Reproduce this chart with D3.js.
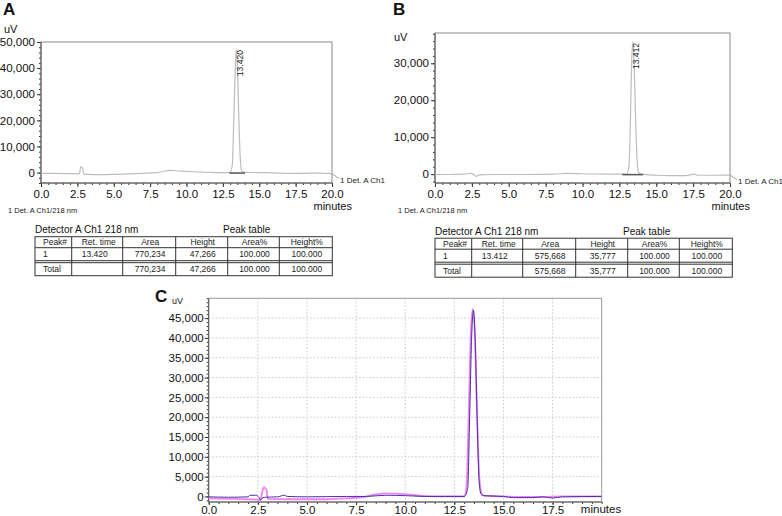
<!DOCTYPE html>
<html>
<head>
<meta charset="utf-8">
<script src="https://cdn.jsdelivr.net/npm/d3@7"></script>
<style>
body { margin: 0; background: #fff; }
svg { display: block; font-family: "Liberation Sans", Arial, sans-serif; }
</style>
</head>
<body>
<svg id="fig" width="782" height="516"></svg>
<script>
// time axis ticks (minutes)
var timeTicks = [0, 2.5, 5, 7.5, 10, 12.5, 15, 17.5, 20];

// chromatogram A: [minutes, uV]
var traceA = [[0,-300],[1,-300],[2,-400],[2.55,-500],[2.65,-300],[2.72,2200],[2.85,1800],[2.95,-600],[3.2,-700],
  [4,-800],[5,-700],[6,-500],[7,-300],[8,0],[8.5,600],[8.9,800],[9.5,600],[10.5,300],[11.5,100],[12.5,0],
  [13.0,100],[13.15,3000],[13.25,20000],[13.35,40000],[13.42,47266],[13.5,40000],[13.6,20000],[13.7,5000],
  [13.8,600],[14.0,100],[15,0],[16,-100],[17,-300],[18,-300],[19,-200],[20,-400]];

// chromatogram B
var traceB = [[0,-100],[1,-100],[2,0],[2.4,200],[2.6,0],[2.8,-600],[3.0,-200],[4,-100],[6,-100],[8,0],[9,200],
  [10,100],[12,0],[13.0,0],[13.15,2000],[13.25,15000],[13.33,30000],[13.412,35777],[13.5,30000],[13.6,15000],
  [13.7,4000],[13.8,500],[14,0],[15,-300],[16,-400],[17,-400],[17.6,0],[17.8,-300],[19,-300],[20,-200]];

// overlay C
var traceCPink = [[0,-500],[1,-600],[2,-700],[2.5,-800],[2.6,-1100],[2.7,500],[2.8,2300],[2.95,1500],[3.0,-600],
  [4,-700],[5,-700],[6,-700],[7,-500],[7.8,-200],[8.5,500],[9,800],[10,600],[10.5,300],[11,100],[12,0],[13,0],
  [13.12,2500],[13.23,20000],[13.33,40000],[13.44,47300],[13.55,40000],[13.66,20000],[13.77,5000],[13.88,800],
  [14,200],[15,0],[16,-100],[17,-100],[18,0],[20,0]];
var traceCDark = [[0,-100],[1,-200],[2,-100],[2.1,300],[2.4,300],[2.55,-200],[2.65,-900],[2.75,-300],[2.9,-200],
  [3.5,-100],[3.85,300],[4.0,0],[5,-100],[7,0],[8,0],[9,300],[10,200],[10.5,100],[11,0],[12,0],[13,0],
  [13.18,2000],[13.28,20000],[13.38,40000],[13.47,47000],[13.56,40000],[13.66,20000],[13.76,4000],[13.86,600],
  [14,200],[15,0],[15.5,-300],[16.5,-300],[17,-100],[17.5,-400],[18,-100],[20,0]];

// peaks: [ret. time, height, baseline start, baseline end]
var peakA = [13.420, 47266, 12.95, 14.02];
var peakB = [13.412, 35777, 12.7, 14.1];

// peak tables
var tableHeader = ["Peak#", "Ret. time", "Area", "Height", "Area%", "Height%"];
var tableRowsA = [["1", "13.420", "770,234", "47,266", "100.000", "100.000"],
                  ["Total", "", "770,234", "47,266", "100.000", "100.000"]];
var tableRowsB = [["1", "13.412", "575,668", "35,777", "100.000", "100.000"],
                  ["Total", "", "575,668", "35,777", "100.000", "100.000"]];

var svg = d3.select('#fig');

function styleAxis(sel, size) {
  sel.select('.domain').remove();
  sel.selectAll('.tick line').attr('stroke', '#333');
  sel.selectAll('.tick text').attr('fill', '#111').style('font-size', size + 'px')
    .style('font-family', '"Liberation Sans", Arial, sans-serif');
}

var line = function (x, y) {
  return d3.line().x(function (d) { return x(d[0]); }).y(function (d) { return y(d[1]); })
    .curve(d3.curveMonotoneX);
};

function drawSingle(cfg) {
  var x = d3.scaleLinear().domain([0, 20]).range(cfg.xr);
  var y = d3.scaleLinear().domain(cfg.yd).range(cfg.yr);
  var g = svg.append('g');

  // minor ticks
  g.append('g').attr('transform', 'translate(' + cfg.xr[0] + ',0)')
    .call(d3.axisLeft(y).tickValues(d3.range(Math.ceil(cfg.yd[0] / 2000) * 2000, cfg.yd[1] + 1, 2000)).tickSize(2).tickFormat(''))
    .call(styleAxis, 11);
  g.append('g').attr('transform', 'translate(0,' + cfg.yr[0] + ')')
    .call(d3.axisBottom(x).tickValues(d3.range(0, 20.01, 0.5)).tickSize(2).tickFormat(''))
    .call(styleAxis, 11);
  // major ticks
  g.append('g').attr('transform', 'translate(' + cfg.xr[0] + ',0)')
    .call(d3.axisLeft(y).tickValues(cfg.yTicks).tickSize(4).tickPadding(2).tickFormat(d3.format(',')))
    .call(styleAxis, 11.5);
  g.append('g').attr('transform', 'translate(0,' + cfg.yr[0] + ')')
    .call(d3.axisBottom(x).tickValues(timeTicks).tickSize(4).tickPadding(3).tickFormat(d3.format('.1f')))
    .call(styleAxis, 11.5);

  g.append('rect').attr('x', cfg.xr[0]).attr('y', cfg.yr[1])
    .attr('width', cfg.xr[1] - cfg.xr[0]).attr('height', cfg.yr[0] - cfg.yr[1])
    .attr('fill', 'none').attr('stroke', '#8a8a8a').attr('stroke-width', 1);
  g.append('line').attr('x1', cfg.xr[0]).attr('x2', cfg.xr[0]).attr('y1', cfg.yr[1]).attr('y2', cfg.yr[0])
    .attr('stroke', '#555');
  g.append('line').attr('x1', cfg.xr[0]).attr('x2', cfg.xr[1]).attr('y1', cfg.yr[0]).attr('y2', cfg.yr[0])
    .attr('stroke', '#555');

  g.append('path').datum(cfg.trace).attr('d', line(x, y))
    .attr('fill', 'none').attr('stroke', '#bdbdbd').attr('stroke-width', 1.2);

  // integration baseline + peak label
  var p = cfg.peak;
  g.append('line').attr('x1', x(p[2])).attr('x2', x(p[3])).attr('y1', y(0) + 0.5).attr('y2', y(0) + 0.5)
    .attr('stroke', '#555').attr('stroke-width', 1.5);
  g.append('text').attr('transform', 'translate(' + (x(p[0]) + 6.5) + ',' + (y(p[1]) + 1) + ') rotate(-90)')
    .attr('text-anchor', 'end').style('font-size', '8.5px').attr('fill', '#222').text(p[0].toFixed(3));

  // channel label at right end
  var last = cfg.trace[cfg.trace.length - 1];
  g.append('line').attr('x1', cfg.xr[1]).attr('y1', y(last[1])).attr('x2', cfg.xr[1] + 7).attr('y2', y(last[1]) + 5)
    .attr('stroke', '#888').attr('stroke-width', 0.8);
  g.append('text').attr('x', cfg.xr[1] + 8).attr('y', y(last[1]) + 9).style('font-size', '8px').attr('fill', '#222')
    .text('1 Det. A Ch1');

  g.append('text').attr('x', cfg.xr[1] + 20).attr('y', cfg.yr[0] + 26.5).attr('text-anchor', 'end')
    .style('font-size', '11px').attr('fill', '#111').text('minutes');
  g.append('text').attr('x', cfg.left + 8).attr('y', cfg.yr[0] + 30).style('font-size', '7.5px').attr('fill', '#222')
    .text('1 Det. A Ch1/218 nm');
  g.append('text').attr('x', cfg.left + 4).attr('y', cfg.uvY).style('font-size', '11px').attr('fill', '#111').text('uV');
  g.append('text').attr('x', cfg.left + 3).attr('y', 15).style('font-size', '17px').style('font-weight', 'bold')
    .attr('fill', '#111').text(cfg.letter);
}

function drawTable(rows, dx, dy) {
  var cols = [35, 71.7, 122.7, 175.7, 227.7, 279.3, 332.3].map(function (v) { return v + dx; });
  var rowsY = [236.7, 247.7, 260.7, 262.7, 275.7].map(function (v) { return v + dy; });
  var g = svg.append('g');
  g.append('text').attr('x', cols[0]).attr('y', rowsY[0] - 3.3).style('font-size', '10px').attr('fill', '#111')
    .text('Detector A Ch1 218 nm');
  g.append('text').attr('x', cols[0] + 188).attr('y', rowsY[0] - 3.3).style('font-size', '10px').attr('fill', '#111')
    .text('Peak table');
  g.append('rect').attr('x', cols[0]).attr('y', rowsY[0]).attr('width', cols[6] - cols[0])
    .attr('height', rowsY[4] - rowsY[0]).attr('fill', 'none').attr('stroke', '#333');
  [1, 2, 3].forEach(function (i) {
    g.append('line').attr('x1', cols[0]).attr('x2', cols[6]).attr('y1', rowsY[i]).attr('y2', rowsY[i])
      .attr('stroke', '#333');
  });
  cols.slice(1, 6).forEach(function (c) {
    g.append('line').attr('x1', c).attr('x2', c).attr('y1', rowsY[0]).attr('y2', rowsY[4]).attr('stroke', '#333');
  });
  var lines = [tableHeader].concat(rows);
  var mids = [(rowsY[0] + rowsY[1]) / 2, (rowsY[1] + rowsY[2]) / 2, (rowsY[3] + rowsY[4]) / 2];
  lines.forEach(function (r, ri) {
    r.forEach(function (t, ci) {
      var left = ci < 2;
      g.append('text')
        .attr('x', left ? cols[ci] + (ci === 0 ? 8 : 10) : (cols[ci] + cols[ci + 1]) / 2 + 1)
        .attr('y', mids[ri] + 3)
        .attr('text-anchor', left ? 'start' : 'middle')
        .style('font-size', '8.5px').attr('fill', '#222').text(t);
    });
  });
}

function drawOverlay() {
  var x = d3.scaleLinear().domain([0, 20]).range([208.7, 601.7]);
  var y = d3.scaleLinear().domain([-1400, 50000]).range([502, 298.3]);
  var g = svg.append('g');
  var gridY = d3.range(5000, 50000, 5000);

  g.selectAll('.gx').data(timeTicks.slice(1, 8)).enter().append('line')
    .attr('x1', function (d) { return x(d); }).attr('x2', function (d) { return x(d); })
    .attr('y1', 298.3).attr('y2', 502).attr('stroke', '#c8c8c8').attr('stroke-dasharray', '1.5,2');
  g.selectAll('.gy').data(gridY).enter().append('line')
    .attr('x1', 208.7).attr('x2', 601.7)
    .attr('y1', function (d) { return y(d); }).attr('y2', function (d) { return y(d); })
    .attr('stroke', '#c8c8c8').attr('stroke-dasharray', '1.5,2');

  g.append('g').attr('transform', 'translate(208.7,0)')
    .call(d3.axisLeft(y).tickValues(d3.range(-1000, 50001, 1000)).tickSize(2).tickFormat(''))
    .call(styleAxis, 11);
  g.append('g').attr('transform', 'translate(0,502)')
    .call(d3.axisBottom(x).tickValues(d3.range(0, 20.01, 0.5)).tickSize(2).tickFormat(''))
    .call(styleAxis, 11);
  g.append('g').attr('transform', 'translate(208.7,0)')
    .call(d3.axisLeft(y).tickValues([0].concat(gridY)).tickSize(4).tickPadding(1).tickFormat(d3.format(',')))
    .call(styleAxis, 11.5);
  g.append('g').attr('transform', 'translate(0,502)')
    .call(d3.axisBottom(x).tickValues(timeTicks.slice(0, 8)).tickSize(3).tickPadding(1).tickFormat(d3.format('.1f')))
    .call(styleAxis, 11.5);

  g.append('rect').attr('x', 208.7).attr('y', 298.3).attr('width', 393).attr('height', 203.7)
    .attr('fill', 'none').attr('stroke', '#999');
  g.append('line').attr('x1', 208.7).attr('x2', 208.7).attr('y1', 298.3).attr('y2', 502).attr('stroke', '#555');
  g.append('line').attr('x1', 208.7).attr('x2', 601.7).attr('y1', 502).attr('y2', 502).attr('stroke', '#555');

  g.append('path').datum(traceCPink).attr('d', line(x, y))
    .attr('fill', 'none').attr('stroke', '#ee82ee').attr('stroke-width', 1.8);
  g.append('path').datum(traceCDark).attr('d', line(x, y))
    .attr('fill', 'none').attr('stroke', '#4b2fa6').attr('stroke-width', 1);

  g.append('text').attr('x', 601).attr('y', 513).attr('text-anchor', 'middle')
    .style('font-size', '11.5px').attr('fill', '#111').text('minutes');
  g.append('text').attr('x', 172).attr('y', 304).style('font-size', '9px').attr('fill', '#111').text('uV');
  g.append('text').attr('x', 155).attr('y', 302).style('font-size', '17px').style('font-weight', 'bold')
    .attr('fill', '#111').text('C');
}

drawSingle({ letter: 'A', left: 0, xr: [41, 332], yr: [183, 42], yd: [-4000, 50000],
  yTicks: [0, 10000, 20000, 30000, 40000, 50000], trace: traceA, peak: peakA, uvY: 33 });
drawSingle({ letter: 'B', left: 390, xr: [435, 730], yr: [183, 33], yd: [-2400, 38200],
  yTicks: [0, 10000, 20000, 30000], trace: traceB, peak: peakB, uvY: 41 });
drawTable(tableRowsA, 0, 0);
drawTable(tableRowsB, 400, 1.5);
drawOverlay();
</script>
</body>
</html>
